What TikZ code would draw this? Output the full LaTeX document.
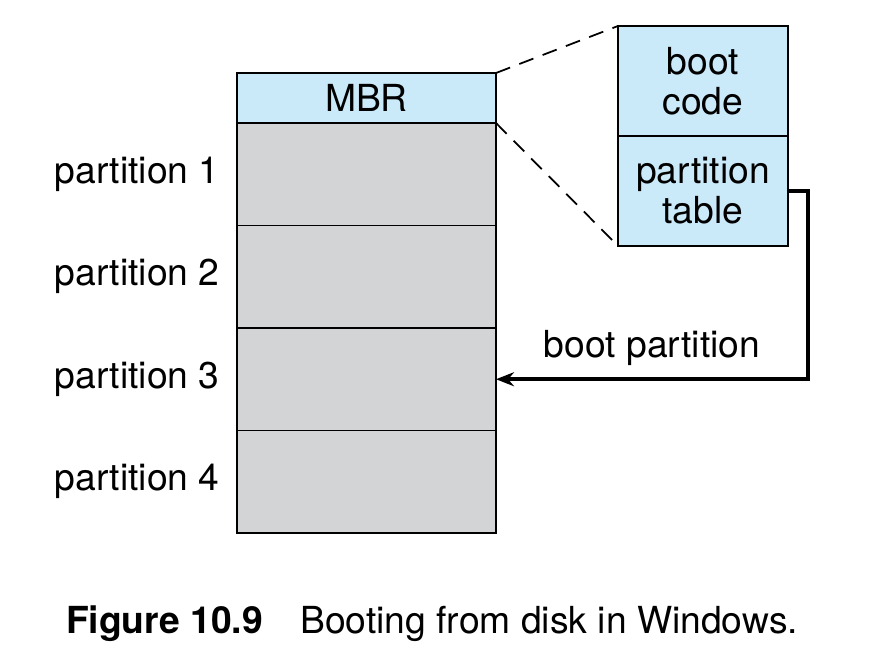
\documentclass[tikz,border=0pt]{standalone}
\usepackage{fontspec}
\setmainfont{TeX Gyre Heros}
\usetikzlibrary{positioning,arrows.meta}
\definecolor{mbrblue}{RGB}{202,233,249}
\definecolor{partgray}{RGB}{211,212,214}

\begin{document}
\begin{tikzpicture}[
		font = \fontsize{10.6}{11.4}\selectfont,
		disk/.style = {draw, line width = 0.55pt, minimum width = 2.59cm, inner sep = 0pt, outer sep = 0pt},
		mbrcell/.style = {disk, fill = mbrblue, minimum height = 0.5cm},
		partcell/.style = {disk, fill = partgray, minimum height = 1.025cm},
		tablecell/.style = {draw, line width = 0.55pt, fill = mbrblue, minimum width = 1.7cm, minimum height = 1.1cm, inner sep = 0pt, outer sep = 0pt, align = center},
		zoomline/.style = {line width = 0.5pt, dash pattern = on 4.3pt off 2.8pt},
		bootarrow/.style = {-{Stealth[length = 1.8mm, width = 1.4mm]}, line width = 1pt}
	]
		\useasboundingbox (0,0) rectangle (8.78,6.5);
		% disk
		\node[mbrcell, anchor = north] (mbr) at (3.665,5.77) {MBR};
		\node[partcell, below = 0pt of mbr] (part1) {};
		\node[partcell, below = 0pt of part1] (part2) {};
		\node[partcell, below = 0pt of part2] (part3) {};
		\node[partcell, below = 0pt of part3] (part4) {};
		\node[left = 0.05cm of part1] (lab1) {partition 1};
		\node[left = 0.05cm of part2] (lab2) {partition 2};
		\node[left = 0.05cm of part3] (lab3) {partition 3};
		\node[left = 0.05cm of part4] (lab4) {partition 4};
		% MBR contents
		\node[tablecell, anchor = north] (bootcode) at (7.03,6.24) {boot\\code};
		\node[tablecell, below = 0pt of bootcode] (parttable) {partition\\table};
		\draw[zoomline] (mbr.north east) -- (bootcode.north west);
		\draw[zoomline] (mbr.south east) -- (parttable.south west);
		\draw[bootarrow] (parttable.east) -- ++(0.2,0) |- (part3.east)
			node[pos = 0.75, above] (bootlab) {boot partition};
		% caption
		\node (caption) at (4.32,0.26) {\textbf{Figure 10.9}\quad Booting from disk in Windows.};
\end{tikzpicture}
\end{document}
